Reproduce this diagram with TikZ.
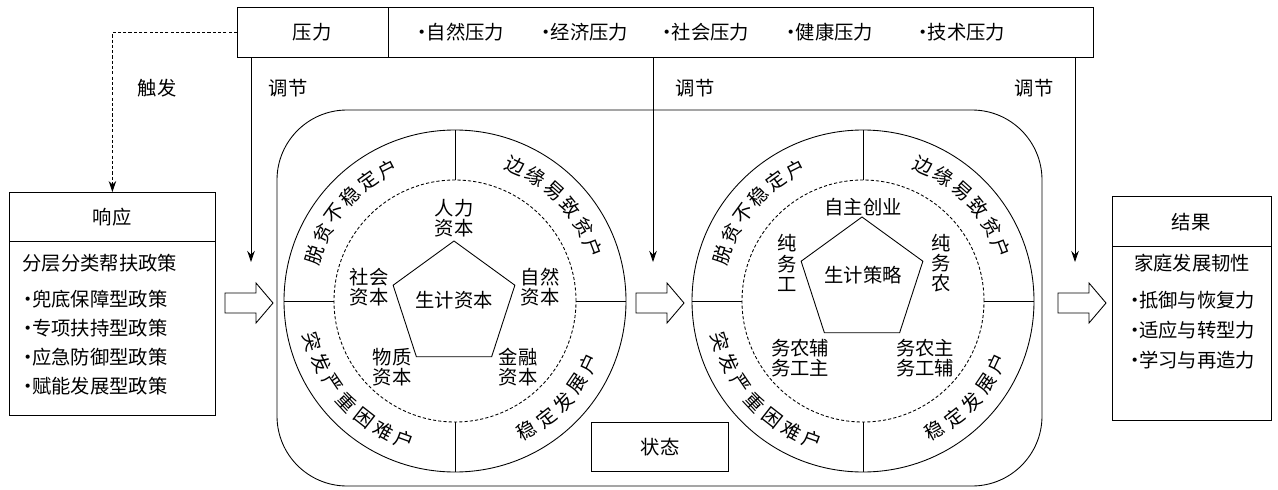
\documentclass[tikz,border=0pt]{standalone}
\usepackage{fontspec}
\setmainfont{Noto Sans CJK SC}
\usetikzlibrary{arrows.meta}
\newcommand\bul{\makebox[0.45em]{·}}

\begin{document}
\begin{tikzpicture}[x=0.02cm,y=0.02cm,>={Stealth[length=2.2mm,width=1.5mm]},
	line width=0.5pt,
	every node/.style={font=\fontsize{11}{11.5}\selectfont,inner sep=0pt},
	box/.style={draw,anchor=north west},
	trig/.style={dash pattern=on 1.8pt off 1.2pt}]
	\useasboundingbox (0,0) rectangle (1278,-490);

	% pressure bar
	\node[box,minimum width=17.12cm,minimum height=1cm] (bar) at (237,-7) {};
	\draw (388,-7) -- (388,-57);
	\node (press) at (312,-32) {压力};
	\foreach \x/\txt [count=\i] in {461/自然压力, 585/经济压力, 706/社会压力, 830/健康压力, 962/技术压力}
		\node (p\i) at (\x,-32) {\bul\txt};

	% response
	\node[box,minimum width=4.12cm,minimum height=4.46cm] (resp) at (9,-192) {};
	\draw (9,-241) -- (215,-241);
	\node (resp-t) at (112,-217) {响应};
	\node[anchor=west] (resp-h) at (22,-263) {分层分类帮扶政策};
	\foreach \txt [count=\i] in {兜底保障型政策, 专项扶持型政策, 应急防御型政策, 赋能发展型政策}
		\node[anchor=west] (resp-\i) at (23,-270-29*\i) {\bul\txt};
	\draw[trig,->] (bar.west) -| (resp.north);
	\node (trigger) at (157,-88) {触发};

	% result
	\node[box,minimum width=3.18cm,minimum height=4.48cm] (res) at (1112,-196) {};
	\draw (1112,-246) -- (1271,-246);
	\node (res-t) at (1191,-222) {结果};
	\node (res-h) at (1192,-263) {家庭发展韧性};
	\foreach \txt [count=\i] in {抵御与恢复力, 适应与转型力, 学习与再造力}
		\node[anchor=west] (res-\i) at (1130,-270-30*\i) {\bul\txt};

	% adjust arrows
	\foreach \x/\lx [count=\i] in {251/288, 653/695, 1075/1034} {
		\coordinate (adj\i) at (\x,-262);
		\draw[->] (bar.south -| adj\i) -- (adj\i);
		\node (adjl\i) at (\lx,-88) {调节};
	};

	% state
	\draw[rounded corners=1.4cm] (277,-110) rectangle (1042,-486);
	\node[draw,minimum width=2.74cm,minimum height=0.98cm] (state) at (660,-447) {状态};

	% block arrows
	\foreach \bx in {225,636,1058}
		\draw (\bx,-293) -- ++(31,0) -- ++(0,10) -- ++(17,-20) -- ++(-17,-20)
			-- ++(0,10) -- ++(-31,0) -- cycle;

	% two rings
	\foreach \cx in {455,863} {
		\draw (\cx,-301) circle[radius=171];
		\draw[trig] (\cx,-301) circle[radius=121];
		\foreach \a in {0,90,180,270}
			\draw (\cx,-301) ++(\a:121) -- ++(\a:50);
		\foreach \s/\d/\r/\txt in {
				171/-9/-90/{脱,贫,不,稳,定,户},
				75/-9/-90/{边,缘,易,致,贫,户},
				187/9/90/{突,发,严,重,困,难,户},
				290/9/90/{稳,定,发,展,户}} {
			\foreach \ch [count=\i] in \txt {
				\pgfmathsetmacro\ang{\s+\d*\i}
				\path (\cx,-301) ++(\ang:148) node[rotate=\ang+\r] (r\cx-\s-\i) {\ch};
			};
		};
	};

	% capital
	\draw[shift={(454,-305)}] (90:64) \foreach \a in {162,234,306,18} { -- (\a:64) } -- cycle;
	\node (cap) at (454,-300) {生计资本};
	\node[align=center] (hum) at (454,-218) {人力\\资本};
	\node[align=center] (soc) at (369,-287) {社会\\资本};
	\node[align=center] (nat) at (540,-287) {自然\\资本};
	\node[align=center] (phy) at (392,-367) {物质\\资本};
	\node[align=center] (fin) at (518,-367) {金融\\资本};

	% strategy
	\draw[shift={(862,-281)}] (90:64) \foreach \a in {162,234,306,18} { -- (\a:64) } -- cycle;
	\node (strat) at (863,-275) {生计策略};
	\node (self) at (863,-207) {自主创业};
	\node[align=center] (work) at (787,-263) {纯\\务\\工};
	\node[align=center] (farm) at (941,-263) {纯\\务\\农};
	\node[align=center] (mixw) at (800,-358) {务农辅\\务工主};
	\node[align=center] (mixf) at (925,-358) {务农主\\务工辅};
\end{tikzpicture}
\end{document}
